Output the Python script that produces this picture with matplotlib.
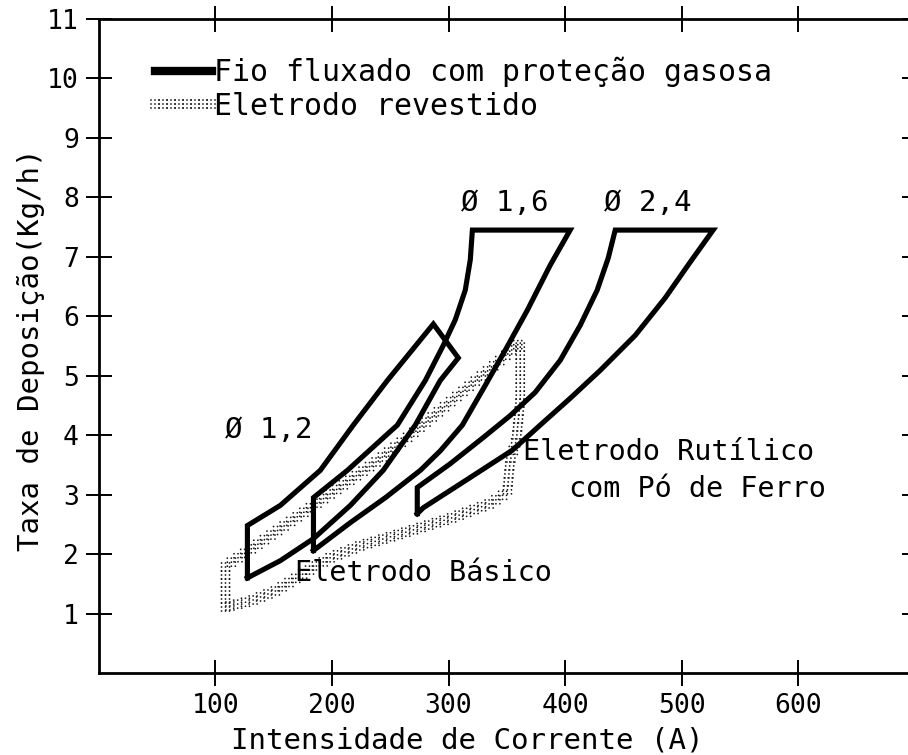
import matplotlib
matplotlib.use("Agg")
import matplotlib.pyplot as plt
from matplotlib.lines import Line2D
import matplotlib.patheffects as pe

plt.rcParams['font.family'] = ['DejaVu Sans Mono', 'DejaVu Sans']

# ---------------- data (Intensidade de Corrente [A], Taxa de Deposição [kg/h]) ----------------
# Fio fluxado com proteção gasosa, diâmetro 1,2 mm (closed outline)
d12_x = [127.4, 127.4, 155.7, 190.0, 218.3, 247.5, 287.0, 308.4, 292.9, 271.5, 244.0, 215.8, 184.1, 155.7, 127.4]
d12_y = [1.60, 2.48, 2.82, 3.41, 4.17, 4.92, 5.87, 5.30, 4.92, 4.17, 3.41, 2.82, 2.26, 1.89, 1.60]

# diâmetro 1,6 mm
d16_x = [184.1, 184.1, 213.3, 256.1, 280.1, 295.5, 305.8, 314.4, 318.7, 320.5, 404.4,
         387.3, 367.6, 348.7, 331.6, 311.9, 293.1, 275.9, 245.9, 215.8, 184.1]
d16_y = [2.06, 2.95, 3.41, 4.17, 4.92, 5.51, 5.94, 6.44, 6.95, 7.45, 7.45,
         6.86, 6.10, 5.43, 4.84, 4.17, 3.74, 3.41, 2.95, 2.53, 2.06]

# diâmetro 2,4 mm
d24_x = [273.2, 273.2, 301.5, 329.8, 353.0, 374.4, 395.9, 413.1, 427.6, 437.1, 443.1, 527.1,
         507.4, 486.0, 460.3, 430.2, 404.4, 378.7, 355.0, 318.0, 278.4, 273.2]
d24_y = [2.68, 3.12, 3.52, 3.96, 4.33, 4.72, 5.26, 5.85, 6.44, 6.98, 7.45, 7.45,
         6.91, 6.31, 5.68, 5.09, 4.62, 4.17, 3.75, 3.28, 2.78, 2.68]

# Eletrodo revestido (básico + rutílico com pó de ferro) outline
el_x = [108.6, 108.6, 125.7, 155.7, 181.5, 211.5, 237.2, 267.2, 293.0, 318.7, 340.2, 361.6,
        361.6, 358.2, 353.0, 350.4, 335.8, 301.5, 258.6, 224.3, 198.6, 172.9, 151.4, 130.0, 108.6]
el_y = [1.11, 1.80, 2.02, 2.43, 2.78, 3.19, 3.54, 4.00, 4.42, 4.84, 5.19, 5.56,
        4.59, 3.91, 3.58, 3.04, 2.85, 2.60, 2.34, 2.14, 1.94, 1.64, 1.38, 1.21, 1.11]

x_ticks = [100, 200, 300, 400, 500, 600]
y_ticks = [1, 2, 3, 4, 5, 6, 7, 8, 9, 10, 11]

labels_series = ["Fio fluxado com proteção gasosa", "Eletrodo revestido"]
xlabel = "Intensidade de Corrente (A)"
ylabel = "Taxa de Deposição(Kg/h)"

# ---------------- figure ----------------
fig = plt.figure(figsize=(9.08, 7.55), dpi=100)
ax = fig.add_axes([0.1090, 0.1086, 0.8982, 0.8662])
ax.set_xlim(0, 700)
ax.set_ylim(0, 11)

# dotted (stippled) band style
px = 72 / 100.0  # points per pixel
offs = [-4.0, 0.0, 4.0]
dot_effects = [pe.Stroke(offset=(dx * px, dy * px)) for dx in offs for dy in offs]
dot_lw = 1.3
dot_kw = dict(color='#151515', lw=dot_lw, linestyle=(0, (0.01, 8 * px / dot_lw - 0.01)),
              dash_capstyle='round', path_effects=dot_effects, zorder=2)

ax.plot(el_x, el_y, **dot_kw)

line_kw = dict(color='black', lw=3.7, solid_joinstyle='miter', zorder=3)
ax.plot(d12_x, d12_y, **line_kw)
ax.plot(d16_x, d16_y, **line_kw)
ax.plot(d24_x, d24_y, **line_kw)

# texts
tfs = 21
afs = 20.5
ax.text(145.6, 4.08, "Ø 1,2", fontsize=tfs, ha='center', va='center')
ax.text(348.7, 7.91, "Ø 1,6", fontsize=tfs, ha='center', va='center')
ax.text(471.3, 7.91, "Ø 2,4", fontsize=tfs, ha='center', va='center')
ax.text(489.0, 3.71, "Eletrodo Rutílico", fontsize=afs, ha='center', va='center', zorder=4)
ax.text(513.4, 3.10, "com Pó de Ferro", fontsize=afs, ha='center', va='center', zorder=4)
ax.text(278.4, 1.69, "Eletrodo Básico", fontsize=afs, ha='center', va='center', zorder=4)

# legend
h1 = Line2D([], [], color='black', lw=6)
h2 = Line2D([], [], **{k: v for k, v in dot_kw.items() if k != 'zorder'})
leg = ax.legend([h1, h2], labels_series, loc='upper left', bbox_to_anchor=(0.0687, 0.942),
                frameon=False, fontsize=21.5, handlelength=1.9, handletextpad=0.08,
                labelspacing=0.15, borderpad=0, borderaxespad=0)

# axes styling
for s in ax.spines.values():
    s.set_linewidth(2.0)
    s.set_color('black')
ax.set_xticks(x_ticks)
ax.set_yticks(y_ticks)
ax.tick_params(axis='both', which='major', direction='inout', length=19, width=1.4,
               labelsize=19, top=True, right=True, labeltop=False, labelright=False)
ax.tick_params(axis='x', pad=5)
ax.tick_params(axis='y', pad=5)

ax.set_xlabel(xlabel, fontsize=tfs)
ax.xaxis.set_label_coords(0.452, -0.082)
ax.set_ylabel(ylabel, fontsize=tfs)
ax.yaxis.set_label_coords(-0.066, 0.494)

fig.savefig("out.png", dpi=100)
